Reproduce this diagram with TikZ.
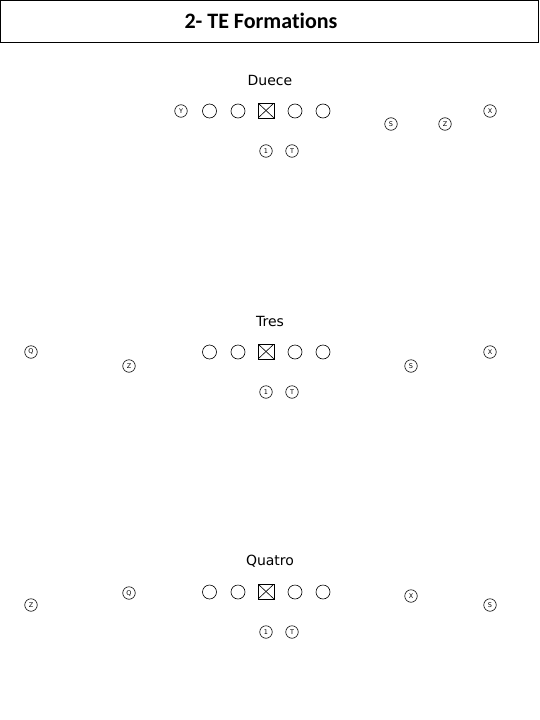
\documentclass[tikz,border=0pt]{standalone}
\usepackage{fontspec}
\setmainfont{DejaVu Sans}
\newfontfamily\titlefont[Ligatures = NoCommon]{Carlito}

\begin{document}
\begin{tikzpicture}[x = 1pt, y = -1pt, line width = 0.6pt,
  lineman/.style = {draw, circle, minimum size = 14pt, inner sep = 0},
  player/.style = {draw, circle, minimum size = 12.5pt, inner sep = 0,
    font = \fontsize{6.5}{6.5}\selectfont},
  snapper/.style = {draw, rectangle, minimum width = 16pt,
    minimum height = 15pt, inner sep = 0,
    path picture = {\draw (path picture bounding box.north west) --
      (path picture bounding box.south east)
      (path picture bounding box.north east) --
      (path picture bounding box.south west);}},
  formname/.style = {font = \fontsize{14}{14}\selectfont}]
  \useasboundingbox (0, 0) rectangle (540, 720);

  \draw (0.5, 0.5) rectangle (538, 42);
  \node[font = \titlefont\bfseries\fontsize{22}{22}\selectfont] (title)
  at (261, 21) {2- TE Formations};

  % line and backs are the same in each formation
  \foreach \f/\dy/\name in {duece/0/Duece, tres/241/Tres, quatro/481/Quatro} {
    \begin{scope}[shift = {(0, \dy)}]
      \node[formname] (\f-name) at (270, 80) {\name};
      \node[snapper] (\f-c) at (266, 110.5) {};
      \foreach \x/\n in {209.5/lt, 238/lg, 295/rg, 323/rt}
        \node[lineman] (\f-\n) at (\x, 111) {};
      \node[player] (\f-one) at (266, 151) {1};
      \node[player] (\f-t) at (292, 151) {T};
    \end{scope}
  }

  % duece
  \node[player] (duece-y) at (181, 111) {Y};
  \node[player] (duece-s) at (391, 124) {S};
  \node[player] (duece-z) at (445, 124) {Z};
  \node[player] (duece-x) at (490, 111) {X};

  % tres
  \node[player] (tres-q) at (31, 352) {Q};
  \node[player] (tres-z) at (129, 366) {Z};
  \node[player] (tres-s) at (411, 366) {S};
  \node[player] (tres-x) at (490, 352) {X};

  % quatro
  \node[player] (quatro-z) at (31, 605) {Z};
  \node[player] (quatro-q) at (129, 593) {Q};
  \node[player] (quatro-x) at (411, 596) {X};
  \node[player] (quatro-s) at (490, 605) {S};
\end{tikzpicture}
\end{document}
